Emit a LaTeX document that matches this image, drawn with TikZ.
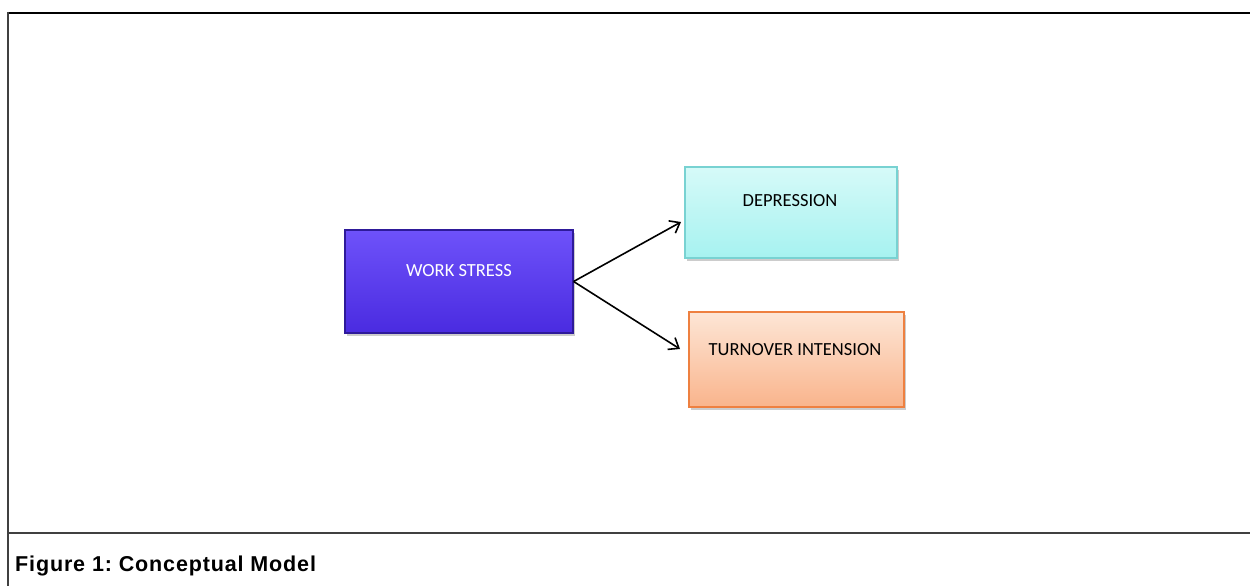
\documentclass[tikz,border=0pt]{standalone}
\usepackage{fontspec}
\setmainfont{Liberation Sans}
\newfontfamily\calib{Carlito}
\newfontfamily\capfont[LetterSpace=4]{Liberation Sans}
\usetikzlibrary{arrows.meta,shadows}
\definecolor{wsTop}{HTML}{6E52FA}
\definecolor{wsBot}{HTML}{4A2BE0}
\definecolor{wsBorder}{HTML}{2E1A9A}
\definecolor{dpTop}{HTML}{D6FAF8}
\definecolor{dpBot}{HTML}{A6F2F0}
\definecolor{dpBorder}{HTML}{78D2D2}
\definecolor{toTop}{HTML}{FDE6D6}
\definecolor{toBot}{HTML}{F9B48C}
\definecolor{toBorder}{HTML}{EE8040}
\tikzset{
  box/.style={rectangle, minimum width=#1, inner sep=0pt, line width=1.2pt,
    drop shadow={shadow xshift=1.5pt, shadow yshift=-2.5pt, opacity=0.4}},
  lbl/.style={font=\calib\fontsize{18.5}{22}\selectfont, anchor=center},
  arr/.style={-{Straight Barb[length=9pt,width=14pt]}, line width=1.6pt, black},
  frame/.style={line width=1.6pt, draw=black!75},
}
\begin{document}
\begin{tikzpicture}[x=1pt,y=-1pt]
\useasboundingbox (0,0) rectangle (1250,586);
% frame
\draw[line width=2.2pt] (7,13) -- (1250,13);
\draw[frame] (8,12) -- (8,586);
\draw[frame] (8,533) -- (1250,533);
% boxes
\node[box, draw=wsBorder, top color=wsTop, bottom color=wsBot, minimum width=228pt, minimum height=103pt] (ws) at (459,281.5) {};
\node[lbl, text=white] (wst) at (459,271) {WORK STRESS};
\node[box, draw=dpBorder, top color=dpTop, bottom color=dpBot, minimum width=212pt, minimum height=91pt] (dp) at (791,212.5) {};
\node[lbl, text=black] (dpt) at (790,201) {DEPRESSION};
\node[box, draw=toBorder, top color=toTop, bottom color=toBot, minimum width=215pt, minimum height=95pt] (to) at (796.5,359.5) {};
\node[lbl, text=black] (tot) at (795,350) {TURNOVER INTENSION};
% arrows
\coordinate (o) at (ws.east);
\coordinate (a1) at (681,222);
\coordinate (a2) at (680,349);
\draw[arr] (o) -- (a1);
\draw[arr] (o) -- (a2);
% caption
\node[anchor=base west, font=\capfont\bfseries\fontsize{21.5}{26}\selectfont\frenchspacing, inner sep=0pt] (cap) at (15,571) {Figure 1: Conceptual Model};
\end{tikzpicture}
\end{document}
